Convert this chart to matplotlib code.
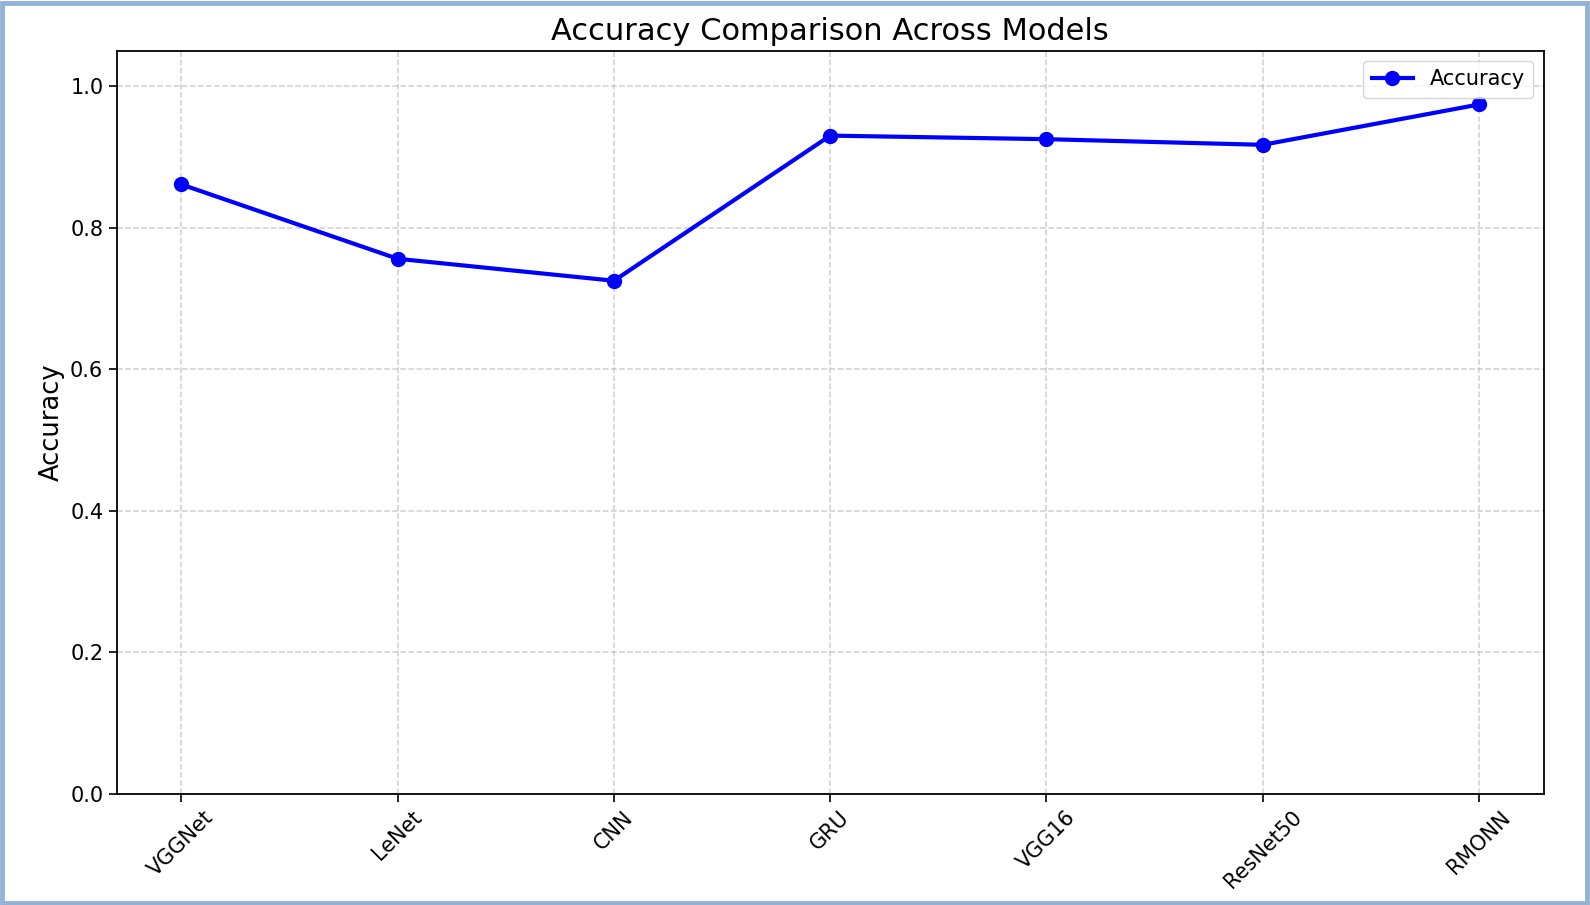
import matplotlib
matplotlib.use("Agg")
import matplotlib.pyplot as plt
from matplotlib.patches import Rectangle

# model accuracy values
models = ["VGGNet", "LeNet", "CNN", "GRU", "VGG16", "ResNet50", "RMONN"]
accuracy = [0.861, 0.756, 0.725, 0.930, 0.925, 0.917, 0.974]

fig = plt.figure(figsize=(15.9, 9.05), dpi=100)
ax = fig.add_axes([0.0733, 0.1227, 0.8977, 0.8213])

ax.plot(models, accuracy, marker="o", color="blue", linewidth=3.0,
        markersize=10, label="Accuracy")
ax.set_ylim(0, 1.05)
ax.set_title("Accuracy Comparison Across Models", fontsize=22, pad=8)
ax.set_ylabel("Accuracy", fontsize=18.5)
ax.tick_params(axis="both", labelsize=15, length=6, width=1.2)
plt.setp(ax.get_xticklabels(), rotation=45)
ax.grid(True, linestyle="--", alpha=0.6, linewidth=1.1)
ax.legend(loc="upper right", fontsize=15)
for s in ax.spines.values():
    s.set_linewidth(1.3)

# light blue frame around the whole figure
fig.patches.append(Rectangle((0.001, 0.002), 0.997, 0.995, transform=fig.transFigure,
                             fill=False, edgecolor="#92b2d8", linewidth=3.5))

fig.savefig("out.png", dpi=100)
